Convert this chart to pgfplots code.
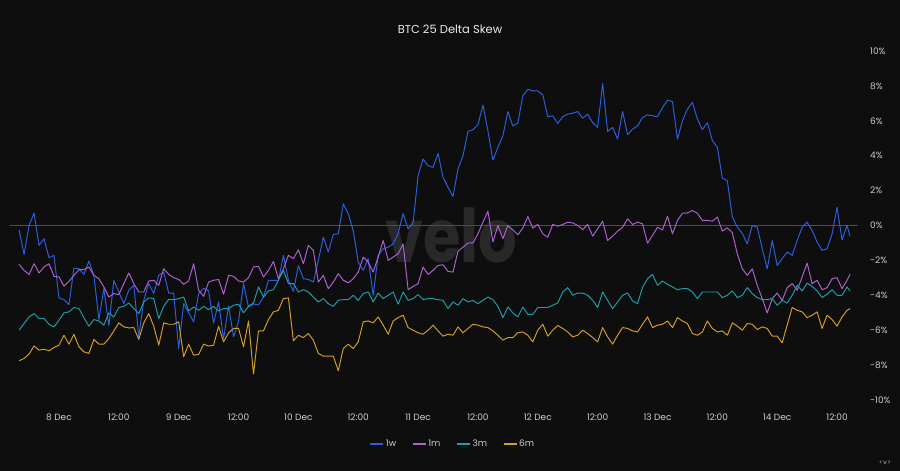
\documentclass[border=0pt]{standalone}
\usepackage{fontspec}
\setmainfont{Poppins}
\usepackage{pgfplots}
\pgfplotsset{compat=1.18}
\usepackage{pgfplotstable}
\definecolor{bg}{RGB}{14,14,14}
\definecolor{c1w}{RGB}{45,95,222}
\definecolor{c1m}{RGB}{178,98,214}
\definecolor{c3m}{RGB}{30,160,172}
\definecolor{c6m}{RGB}{214,160,38}
\definecolor{txt}{RGB}{205,205,205}
\definecolor{titlec}{RGB}{235,235,235}
\definecolor{zl}{RGB}{78,78,78}
\definecolor{wm}{RGB}{40,40,40}

\pgfplotstableread{
h w1 m1 m3 m6
-8 -0.25 -2.23 -6.0 -7.75
-7 -1.66 -2.57 -5.62 -7.62
-6 0.0 -2.8 -5.24 -7.37
-5 0.72 -2.19 -5.05 -6.9
-4 -1.14 -2.72 -5.33 -7.14
-3 -0.76 -2.38 -5.33 -7.09
-2 -1.85 -2.19 -5.66 -7.18
-1 -1.71 -2.91 -5.81 -6.99
0 -4.15 -2.95 -5.43 -6.86
1 -4.25 -3.47 -5.01 -6.29
2 -4.53 -3.2 -4.95 -6.8
3 -2.44 -2.86 -4.7 -6.23
4 -2.48 -2.53 -4.76 -6.95
5 -2.8 -2.53 -5.28 -7.24
6 -2.04 -2.38 -5.77 -7.33
7 -2.86 -2.86 -5.39 -6.53
8 -5.39 -3.05 -5.47 -6.8
9 -3.62 -3.52 -5.71 -6.8
10 -5.75 -4.1 -5.01 -6.48
11 -3.14 -3.9 -5.24 -6.04
12 -3.81 -3.96 -4.7 -5.58
13 -4.48 -3.33 -4.63 -5.81
14 -3.71 -2.72 -4.44 -5.87
15 -3.43 -3.33 -4.76 -5.85
16 -6.38 -3.81 -5.05 -6.53
17 -4.29 -3.81 -4.38 -5.58
18 -3.33 -3.18 -4.15 -5.05
19 -3.9 -3.14 -4.19 -5.77
20 -2.86 -3.43 -5.33 -6.86
21 -2.67 -2.48 -4.63 -5.58
22 -3.87 -2.8 -4.23 -5.66
23 -3.87 -2.99 -4.25 -5.66
24 -7.05 -3.09 -4.19 -5.52
25 -4.48 -3.37 -4.1 -7.52
26 -5.0 -3.18 -4.9 -6.8
27 -5.52 -2.19 -4.67 -7.43
28 -3.9 -3.71 -4.86 -7.39
29 -3.6 -4.06 -4.63 -6.8
30 -3.75 -3.24 -4.82 -6.91
31 -5.6 -3.14 -4.63 -6.86
32 -4.38 -3.09 -4.9 -5.77
33 -6.5 -3.94 -4.76 -6.67
34 -4.6 -2.86 -4.76 -6.15
35 -6.38 -2.91 -4.57 -5.9
36 -5.5 -3.18 -4.51 -5.9
37 -3.33 -3.24 -5.01 -6.95
38 -4.67 -2.99 -4.63 -5.47
39 -4.5 -2.38 -4.44 -8.51
40 -4.55 -2.34 -3.52 -6.04
41 -4.1 -2.95 -4.1 -6.04
42 -3.14 -2.57 -3.75 -5.39
43 -3.14 -2.06 -3.68 -4.95
44 -3.14 -3.05 -3.14 -4.86
45 -1.71 -2.48 -2.57 -4.19
46 -3.14 -1.71 -3.33 -4.15
47 -3.78 -1.9 -3.33 -6.61
48 -2.29 -1.39 -3.81 -6.29
49 -3.05 -2.19 -3.68 -6.42
50 -3.09 -1.14 -3.81 -6.19
51 -3.24 -1.43 -4.1 -6.57
52 -2.0 -3.24 -4.38 -7.33
53 -0.67 -2.86 -4.19 -7.49
54 -1.52 -3.62 -4.48 -7.49
55 -0.51 -3.24 -4.63 -7.49
56 -0.48 -2.76 -4.29 -8.32
57 1.24 -3.14 -4.25 -7.05
58 0.67 -3.28 -4.25 -6.8
59 -0.29 -3.05 -4.0 -7.05
60 -2.1 -2.67 -4.29 -6.67
61 -2.57 -1.81 -3.9 -5.52
62 -1.9 -2.1 -3.81 -5.47
63 -4.0 -2.67 -4.38 -5.58
64 -1.71 -1.81 -3.87 -5.24
65 -1.33 -0.86 -4.19 -5.71
66 -1.24 -2.0 -4.0 -6.23
67 -1.05 -1.81 -3.81 -5.47
68 -0.45 -1.62 -4.51 -5.28
69 0.68 -1.05 -3.81 -5.14
70 -0.19 -3.68 -4.29 -5.85
71 0.15 -3.49 -4.19 -6.0
72 2.86 -3.33 -3.96 -6.15
73 3.81 -2.38 -4.25 -6.23
74 3.43 -2.8 -4.19 -6.0
75 3.33 -2.57 -4.19 -5.71
76 4.13 -2.29 -4.25 -6.04
77 2.76 -2.25 -4.29 -6.34
78 2.19 -2.63 -4.76 -6.23
79 1.66 -2.67 -4.38 -6.29
80 3.24 -1.47 -4.57 -5.81
81 4.0 -1.24 -4.19 -6.15
82 5.39 -1.01 -4.38 -5.9
83 5.49 -0.99 -4.29 -5.66
84 5.77 -0.48 -4.48 -5.71
85 6.9 0.19 -4.29 -5.81
86 5.43 0.82 -4.1 -5.85
87 3.75 -0.95 -4.25 -6.04
88 4.48 0.0 -4.63 -6.29
89 5.14 -0.76 -5.28 -6.57
90 6.53 0.0 -4.67 -6.42
91 5.7 -0.25 -5.01 -6.42
92 5.87 -0.53 -5.24 -6.15
93 7.43 -0.15 -4.67 -6.1
94 7.81 0.51 -5.09 -6.29
95 7.71 -0.15 -5.09 -6.67
96 7.71 0.06 -4.7 -6.0
97 7.49 -0.48 -4.7 -5.66
98 6.23 -0.67 -4.7 -6.34
99 6.29 0.06 -4.57 -6.0
100 5.85 -0.04 -4.44 -5.73
101 6.23 0.06 -3.81 -5.9
102 6.38 0.19 -3.56 -6.1
103 6.44 0.15 -4.0 -6.38
104 6.53 0.0 -3.87 -6.29
105 6.15 -0.23 -3.87 -6.0
106 6.38 0.06 -4.0 -6.19
107 5.9 -0.61 -4.29 -6.42
108 5.62 -0.19 -4.7 -6.67
109 8.13 0.25 -3.81 -5.85
110 5.39 -0.86 -4.29 -6.38
111 5.62 -0.61 -4.76 -6.8
112 4.95 -0.32 -4.38 -6.29
113 6.53 -0.1 -4.0 -5.85
114 5.2 0.38 -3.87 -5.9
115 5.52 0.06 -4.32 -6.04
116 5.71 0.19 -4.48 -6.1
117 6.19 0.1 -3.55 -5.66
118 6.34 -1.01 -3.05 -5.24
119 6.29 -0.57 -2.8 -5.85
120 6.23 -0.1 -3.43 -5.71
121 6.76 -0.25 -3.18 -5.66
122 7.18 0.53 -3.37 -5.47
123 7.1 -0.48 -3.52 -5.85
124 4.95 0.29 -3.68 -5.28
125 6.0 0.7 -3.62 -5.47
126 6.67 0.72 -3.62 -5.62
127 7.05 0.86 -3.81 -6.19
128 6.1 0.7 -4.19 -6.29
129 5.49 0.29 -3.81 -6.1
130 5.89 0.29 -3.81 -5.47
131 4.86 0.25 -3.81 -5.9
132 4.48 0.48 -3.81 -6.1
133 2.72 -0.32 -4.13 -6.04
134 2.57 -0.13 -4.0 -6.29
135 0.5 -0.42 -3.75 -5.58
136 -0.1 -1.62 -4.13 -5.77
137 -0.45 -2.48 -4.0 -6.0
138 -1.05 -2.86 -3.56 -5.62
139 0.0 -2.48 -3.9 -5.66
140 -0.1 -3.43 -4.13 -5.96
141 -1.33 -4.19 -4.25 -5.81
142 -2.48 -5.01 -4.25 -5.9
143 -0.86 -4.19 -4.19 -6.34
144 -2.29 -3.87 -4.57 -6.34
145 -1.9 -4.29 -4.29 -6.72
146 -1.52 -3.56 -4.44 -5.71
147 -1.71 -3.33 -4.0 -4.7
148 -0.86 -3.71 -3.43 -4.86
149 -0.1 -2.95 -3.75 -4.95
150 0.19 -2.15 -3.3 -5.28
151 -0.29 -3.33 -3.49 -5.14
152 -0.95 -3.14 -3.75 -4.95
153 -1.43 -3.68 -4.13 -5.9
154 -1.33 -3.56 -3.94 -5.14
155 -0.48 -3.05 -3.68 -5.39
156 1.05 -2.99 -4.0 -5.77
157 -0.82 -3.62 -4.0 -5.24
158 0.0 -3.14 -3.52 -4.86
158.6 -0.63 -2.8 -3.75 -4.76
}\skewdata

\begin{document}
\begin{tikzpicture}[x=1pt,y=1pt]
\fill[bg] (0pt,0pt) rectangle (900pt,471pt);
\node[text=wm, inner sep=0pt, font=\fontsize{74}{74}\selectfont\bfseries] at (451pt,236pt) {\scalebox{0.82}[1]{velo}};
\node[text=titlec, font=\fontsize{11.5}{13}\selectfont] at (450pt,442pt) {BTC 25 Delta Skew};
\begin{axis}[
  at={(10pt,71pt)}, anchor=south west,
  scale only axis, width=848pt, height=349pt,
  xmin=-9.82, xmax=160.2, ymin=-10, ymax=10,
  axis line style={draw=none},
  major tick length=0pt,
  xtick={0,12,...,156},
  xticklabels={8 Dec,12:00,9 Dec,12:00,10 Dec,12:00,11 Dec,12:00,12 Dec,12:00,13 Dec,12:00,14 Dec,12:00},
  xticklabel style={anchor=center, yshift=-17pt, text=txt, font=\fontsize{9}{10}\selectfont},
  ytick={-10,-8,-6,-4,-2,0,2,4,6,8,10},
  yticklabels={-10\%,-8\%,-6\%,-4\%,-2\%,0\%,2\%,4\%,6\%,8\%,10\%},
  yticklabel pos=right,
  yticklabel style={anchor=west, inner sep=0pt, xshift=12pt, text=txt, font=\fontsize{9}{10}\selectfont},
  extra y ticks={0}, extra y tick labels={},
  extra y tick style={grid=major, major grid style={zl, line width=0.7pt}},
  every axis plot/.append style={line width=0.95pt, line join=round},
  legend columns=4,
  legend style={at={(0.5224,-0.126)}, anchor=center, draw=bg, fill=bg, text=txt,
    font=\fontsize{9}{10}\selectfont,
    /tikz/every even column/.append style={column sep=14pt}},
  legend image code/.code={\draw[#1, line width=1.1pt] (0pt,0pt) -- (13pt,0pt);},
]
\addplot[color=c1w] table[x=h, y=w1] {\skewdata};
\addlegendentry{1w}
\addplot[color=c1m] table[x=h, y=m1] {\skewdata};
\addlegendentry{1m}
\addplot[color=c3m] table[x=h, y=m3] {\skewdata};
\addlegendentry{3m}
\addplot[color=c6m] table[x=h, y=m6] {\skewdata};
\addlegendentry{6m}
\end{axis}
\node[text=txt, font=\fontsize{6}{7}\selectfont] at (885pt,8pt) {<\,v\,>};
\pgfresetboundingbox
\path[use as bounding box] (0pt,0pt) rectangle (900pt,471pt);
\end{tikzpicture}
\end{document}
